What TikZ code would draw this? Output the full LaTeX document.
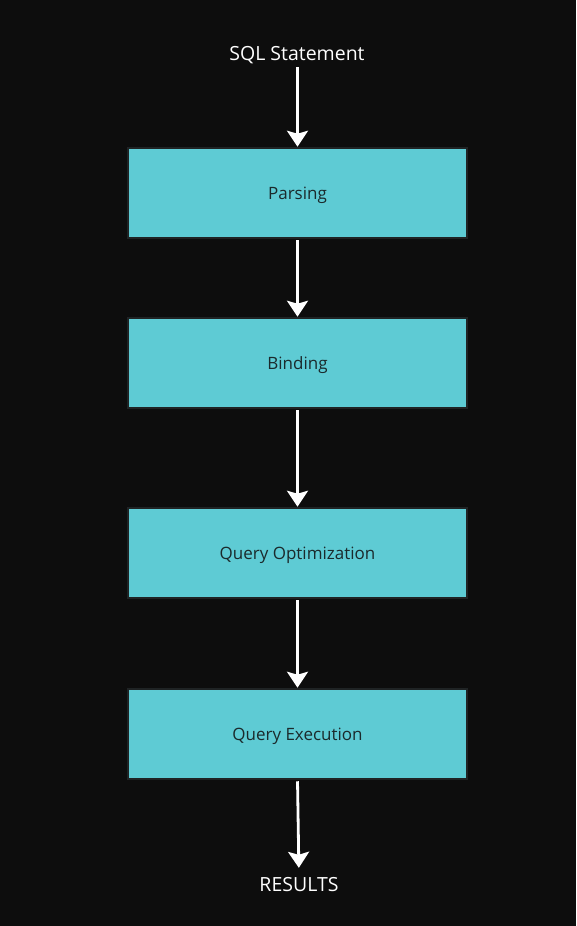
\documentclass[tikz,border=0pt]{standalone}
\usepackage{fontspec}
\setmainfont{Open Sans}
\usetikzlibrary{arrows.meta}
\definecolor{bgc}{HTML}{0D0D0D}
\definecolor{boxfill}{HTML}{5ECBD4}
\definecolor{boxline}{HTML}{1F2324}
\definecolor{boxtext}{HTML}{1B2A2C}
\tikzset{
  stagebox/.style={draw=boxline, line width=2.5pt, fill=boxfill, minimum width=339pt, minimum height=90pt, inner sep=0pt, text=boxtext, text height=13pt, text depth=0pt, font=\fontsize{17}{20}\selectfont},
  endlabel/.style={text=white, inner sep=0pt, text height=14pt, text depth=0pt, font=\fontsize{19.5}{23}\selectfont},
  flow/.style={draw=white, line width=2.8pt, -{Stealth[width=21pt,length=16pt,inset=3pt]}}
}
\begin{document}
\begin{tikzpicture}[x=1pt,y=-1pt]
\fill[bgc] (0,0) rectangle (576,926);
\useasboundingbox (0,0) rectangle (576,926);
\node[endlabel] (sql) at (297,53) {SQL Statement};
\node[stagebox] (parse) at (297.5,193) {Parsing};
\node[stagebox] (bind) at (297.5,363) {Binding};
\node[stagebox] (opt) at (297.5,553) {Query Optimization};
\node[stagebox] (exec) at (297.5,734) {Query Execution};
\node[endlabel] (res) at (299,884) {RESULTS};
\draw[flow, shorten <=7pt] (sql.south -| parse.north) -- (parse.north);
\draw[flow, shorten <=1pt] (parse.south) -- (bind.north);
\draw[flow, shorten <=1pt] (bind.south) -- (opt.north);
\draw[flow, shorten <=1pt] (opt.south) -- (exec.north);
\draw[flow, shorten <=1pt, shorten >=9pt] (exec.south) -- (res.north);
\end{tikzpicture}
\end{document}
